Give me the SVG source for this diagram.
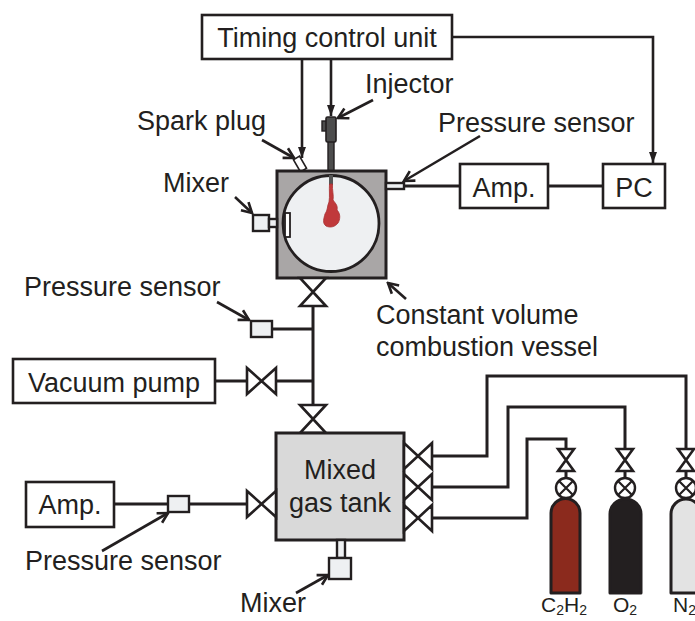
<svg xmlns="http://www.w3.org/2000/svg" width="695" height="621" viewBox="0 0 695 621">
  <style>
    text { font-family: "Liberation Sans", Arial, sans-serif; font-size: 27px; fill: #231f20; }
    .small { font-size: 21px; }
    .box { fill: #ffffff; stroke: #231f20; stroke-width: 2.6; }
    .pipe { fill: none; stroke: #231f20; stroke-width: 3; }
    .valve { fill: #ffffff; stroke: #231f20; stroke-width: 2.6; stroke-linejoin: miter; }
    .sensor { fill: #eef0f2; stroke: #231f20; stroke-width: 2.4; }
    .lead { fill: none; stroke: #231f20; stroke-width: 2.6; marker-end: url(#chev); }
    .signal { fill: none; stroke: #231f20; stroke-width: 2.6; marker-end: url(#tri); }
  </style>
  <defs>
    <marker id="chev" markerUnits="userSpaceOnUse" markerWidth="14" markerHeight="14" viewBox="0 0 14 14" refX="12" refY="7" orient="auto">
      <path d="M2,1.5 L12,7 L2,12.5" fill="none" stroke="#231f20" stroke-width="2.6"/>
    </marker>
    <marker id="tri" markerUnits="userSpaceOnUse" markerWidth="12" markerHeight="10" viewBox="0 0 12 10" refX="11" refY="5" orient="auto">
      <path d="M0,1 L11,5 L0,9 Z" fill="#231f20"/>
    </marker>
  </defs>

  <!-- pipes, signal lines and label leaders -->
  <g id="connectors">
    <!-- timing signals -->
    <path class="signal" d="M302,59 V158"/>
    <path class="signal" d="M331,59 V116"/>
    <path class="signal" d="M452,37 H653 V163"/>
    <!-- pressure signal chain -->
    <path class="pipe" d="M404,186 H460"/>
    <path class="pipe" d="M548,186 H603"/>
    <!-- vessel to tank manifold -->
    <path class="pipe" d="M313,306 V405"/>
    <path class="pipe" d="M272,329 H313"/>
    <path class="pipe" d="M215,381 H247"/>
    <path class="pipe" d="M276,381 H313"/>
    <!-- lower amp / sensor line -->
    <path class="pipe" d="M114,504 H247"/>
    <!-- feed lines from cylinders -->
    <path class="pipe" d="M432,456 H487 V376 H686 V449"/>
    <path class="pipe" d="M432,487 H508 V407 H625 V449"/>
    <path class="pipe" d="M432,518 H527 V439 H566 V449"/>
    <!-- label leaders -->
    <path class="lead" d="M373,100 L338,118"/>
    <path class="lead" d="M262,140 L294,158"/>
    <path class="lead" d="M480,136 L404,181"/>
    <path class="lead" d="M235,197 L252,213"/>
    <path class="lead" d="M217,302 L249,320"/>
    <path class="lead" d="M406,299 L388,283"/>
    <path class="lead" d="M102,551 L168,513"/>
    <path class="lead" d="M296,593 L328,575"/>
  </g>

  <g id="timing-control-unit">
    <rect class="box" x="202" y="15" width="250" height="44"/>
    <text x="327" y="47" text-anchor="middle">Timing control unit</text>
  </g>

  <g id="injector">
    <rect x="328" y="140" width="6" height="31" fill="#4d4d4d" stroke="#231f20" stroke-width="1.4"/>
    <rect x="322" y="121" width="5" height="10" fill="#4d4d4d" stroke="#231f20" stroke-width="1.4"/>
    <rect x="326" y="117" width="10" height="25" rx="1.5" fill="#4d4d4d" stroke="#231f20" stroke-width="1.6"/>
    <text x="365" y="93">Injector</text>
  </g>

  <g id="spark-plug">
    <rect x="-3.5" y="-7" width="7" height="14" fill="#ffffff" stroke="#231f20" stroke-width="1.6" transform="translate(300,164) rotate(-30)"/>
    <text x="137" y="130">Spark plug</text>
  </g>

  <g id="combustion-vessel">
    <rect x="277" y="171" width="109" height="107" fill="#a9a6a6" stroke="#231f20" stroke-width="3"/>
    <circle cx="331" cy="223.5" r="48" fill="#eef0f2" stroke="#231f20" stroke-width="2.8"/>
    <rect x="329" y="175" width="4" height="10" fill="#555555"/>
    <path d="M329.5,184 L332.5,184 C332,190 334,196 333,200 C336,204 338,206 337,210 C341,214 340,220 338,223 C335,227 330,228 326,226 C322,223 324,218 325,214 C328,210 327,206 329,202 C330,196 329,190 329.5,184 Z" fill="#c0393b" stroke="#a83032" stroke-width="0.8"/>
    <text x="376" y="324">Constant volume</text>
    <text x="376" y="356">combustion vessel</text>
  </g>

  <g id="vessel-pressure-sensor">
    <rect class="sensor" x="386" y="183" width="18" height="6" stroke-width="1.6"/>
    <text x="438" y="132">Pressure sensor</text>
  </g>

  <g id="vessel-mixer">
    <rect class="sensor" x="253" y="215" width="16" height="16"/>
    <rect class="sensor" x="269" y="219" width="8" height="8" stroke-width="1.8"/>
    <rect x="285" y="213" width="5" height="24" fill="#ffffff" stroke="#231f20" stroke-width="1.8"/>
    <text x="163" y="192">Mixer</text>
  </g>

  <g id="amp-upper">
    <rect class="box" x="460" y="164" width="88" height="44"/>
    <text x="504" y="197" text-anchor="middle">Amp.</text>
  </g>

  <g id="pc">
    <rect class="box" x="603" y="164" width="62" height="44"/>
    <text x="634" y="197" text-anchor="middle">PC</text>
  </g>

  <g id="vessel-valve">
    <path class="valve" d="M300,278 H326 L300,306 H326 Z"/>
  </g>

  <g id="manifold-pressure-sensor">
    <rect class="sensor" x="251" y="321" width="21" height="16"/>
    <text x="24" y="296">Pressure sensor</text>
  </g>

  <g id="vacuum-pump">
    <rect class="box" x="13" y="359" width="202" height="44"/>
    <text x="114" y="392" text-anchor="middle">Vacuum pump</text>
  </g>

  <g id="vacuum-valve">
    <path class="valve" d="M247,368 V394 L276,368 V394 Z"/>
  </g>

  <g id="tank-valve">
    <path class="valve" d="M300,405 H326 L300,433 H326 Z"/>
  </g>

  <g id="mixed-gas-tank">
    <rect x="276" y="433" width="128" height="107" fill="#d9d9d9" stroke="#231f20" stroke-width="3"/>
    <text x="340" y="479" text-anchor="middle">Mixed</text>
    <text x="340" y="512" text-anchor="middle">gas tank</text>
  </g>

  <g id="tank-inlet-valves">
    <path class="valve" d="M404,443 V469 L432,443 V469 Z"/>
    <path class="valve" d="M404,474 V500 L432,474 V500 Z"/>
    <path class="valve" d="M404,505 V531 L432,505 V531 Z"/>
  </g>

  <g id="tank-side-valve">
    <path class="valve" d="M247,491 V517 L276,491 V517 Z"/>
  </g>

  <g id="tank-pressure-sensor">
    <rect class="sensor" x="168" y="496" width="21" height="16"/>
    <text x="25" y="570">Pressure sensor</text>
  </g>

  <g id="amp-lower">
    <rect class="box" x="26" y="482" width="88" height="45"/>
    <text x="70" y="514" text-anchor="middle">Amp.</text>
  </g>

  <g id="tank-mixer">
    <rect class="sensor" x="337" y="540" width="8" height="18" stroke-width="1.8"/>
    <rect class="sensor" x="329" y="558" width="22" height="21"/>
    <text x="240" y="612">Mixer</text>
  </g>

  <g id="cylinder-c2h2">
    <path class="valve" d="M558,449 H574 L558,471 H574 Z" stroke-width="2"/>
    <path class="pipe" d="M566,471 V478" stroke-width="2.4"/>
    <circle cx="566" cy="488" r="10" fill="#ffffff" stroke="#231f20" stroke-width="2.4"/>
    <path d="M559,481 L573,495 M573,481 L559,495" stroke="#231f20" stroke-width="2.2"/>
    <path d="M551,593 V513 A14.5,14.5 0 0 1 580,513 V593 Z" fill="#8b2a1d" stroke="#231f20" stroke-width="3" stroke-linejoin="round"/>
    <text class="small" x="541" y="612">C<tspan font-size="14" dy="3">2</tspan><tspan dy="-3">H</tspan><tspan font-size="14" dy="3">2</tspan></text>
  </g>

  <g id="cylinder-o2">
    <path class="valve" d="M617,449 H633 L617,471 H633 Z" stroke-width="2"/>
    <path class="pipe" d="M625,471 V478" stroke-width="2.4"/>
    <circle cx="625" cy="488" r="10" fill="#ffffff" stroke="#231f20" stroke-width="2.4"/>
    <path d="M618,481 L632,495 M632,481 L618,495" stroke="#231f20" stroke-width="2.2"/>
    <path d="M610,593 V514 A15.5,15 0 0 1 641,514 V593 Z" fill="#231f20" stroke="#231f20" stroke-width="3" stroke-linejoin="round"/>
    <text class="small" x="613" y="612">O<tspan font-size="14" dy="3">2</tspan></text>
  </g>

  <g id="cylinder-n2">
    <path class="valve" d="M678,449 H694 L678,471 H694 Z" stroke-width="2"/>
    <path class="pipe" d="M686,471 V478" stroke-width="2.4"/>
    <circle cx="686" cy="488" r="10" fill="#ffffff" stroke="#231f20" stroke-width="2.4"/>
    <path d="M679,481 L693,495 M693,481 L679,495" stroke="#231f20" stroke-width="2.2"/>
    <path d="M671,593 V514 A15,15 0 0 1 701,514 V593 Z" fill="#e3e3e3" stroke="#231f20" stroke-width="3" stroke-linejoin="round"/>
    <text class="small" x="673" y="612">N<tspan font-size="14" dy="3">2</tspan></text>
  </g>
</svg>
